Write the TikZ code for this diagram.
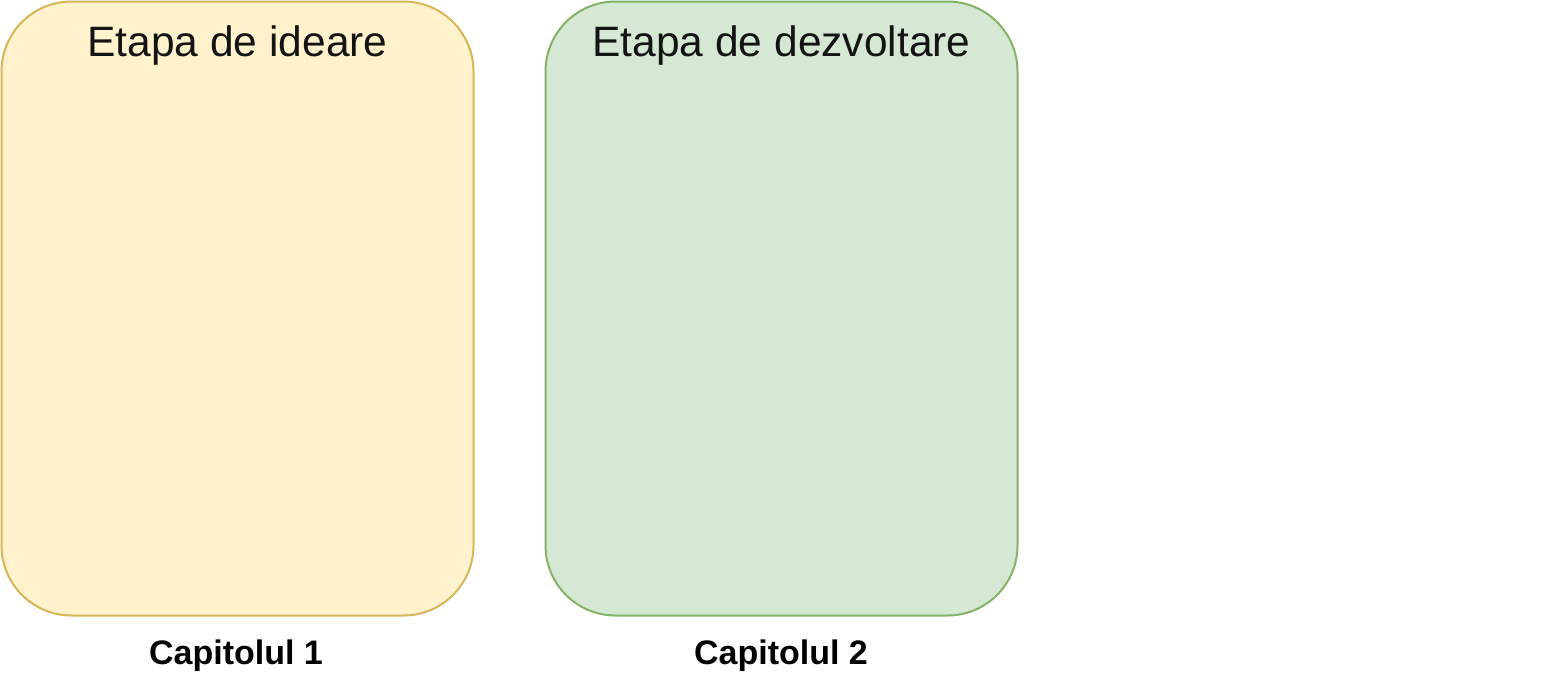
\documentclass[tikz,border=0pt]{standalone}
\usepackage{fontspec}
\setmainfont{Liberation Sans}
\definecolor{yfill}{HTML}{FFF2CC}
\definecolor{ydraw}{HTML}{D6B656}
\definecolor{gfill}{HTML}{D5E8D4}
\definecolor{gdraw}{HTML}{82B366}
\tikzset{
  stage/.style={rectangle, rounded corners=70pt, line width=2pt, minimum width=472pt, minimum height=614pt, inner sep=0pt, outer sep=0pt},
  title/.style={anchor=base, font=\fontsize{42.5pt}{50pt}\selectfont, text=black!92},
  chap/.style={anchor=base, font=\fontsize{34pt}{40pt}\selectfont\bfseries, text=black}
}
\begin{document}
\begin{tikzpicture}[x=1pt,y=-1pt]
\useasboundingbox (0,0) rectangle (1563,688);
\fill[white] (0,0) rectangle (1563,688);
\node[stage, draw=ydraw, fill=yfill] (b1) at (237.5,308.5) {};
\node[stage, draw=gdraw, fill=gfill] (b2) at (781.5,308.5) {};
\node[title] (t1) at (237.5,56) {Etapa de ideare};
\node[title] (t2) at (781.5,56) {Etapa de dezvoltare};
\node[chap] (c1) at (236,664) {Capitolul 1};
\node[chap] (c2) at (781,664) {Capitolul 2};
\end{tikzpicture}
\end{document}
